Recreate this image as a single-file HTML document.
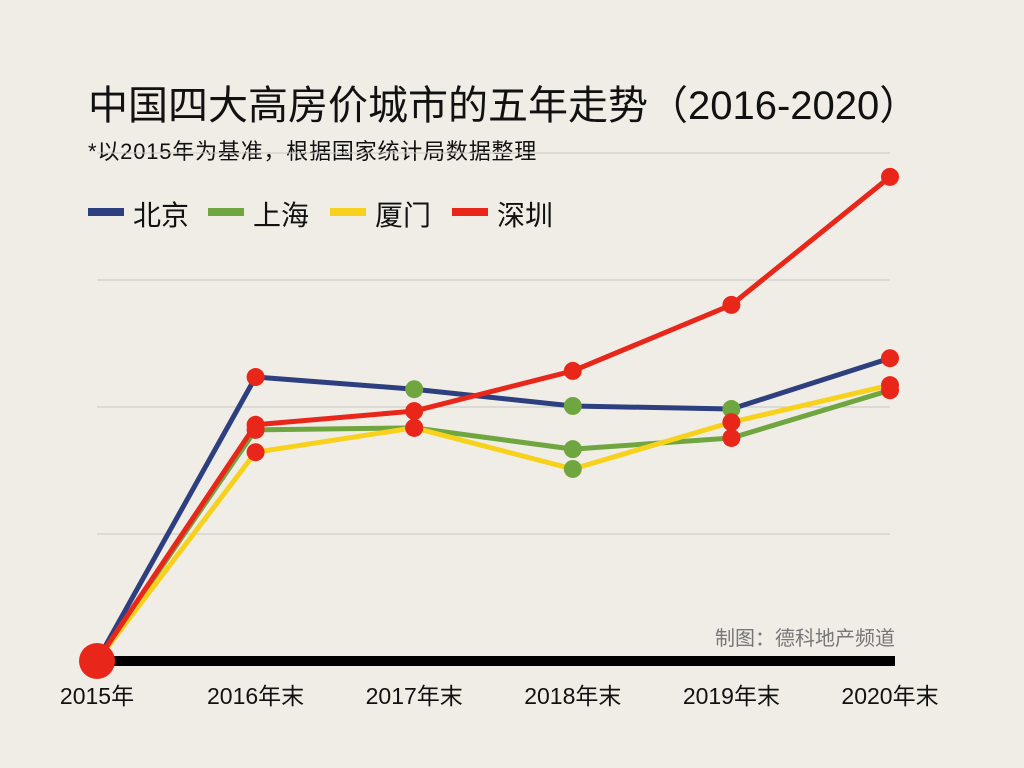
<!DOCTYPE html>
<html><head><meta charset="utf-8">
<style>
body{margin:0;background:#f0ede7;}
svg{display:block;font-family:"Liberation Sans","Noto Sans CJK SC",sans-serif;}
</style></head>
<body>
<svg id="chart" width="1024" height="768" viewBox="0 0 1024 768">
<rect width="1024" height="768" fill="#f0ede7"/>
<text x="88" y="119" font-size="40" fill="#111">中国四大高房价城市的五年走势（2016-2020）</text>
<text x="88" y="159" font-size="22" letter-spacing="0.8" fill="#111">*以2015年为基准，根据国家统计局数据整理</text>
<g>
<g><rect x="88" y="208" width="36" height="8" fill="#2e3f7f"/><text x="133" y="225" font-size="28" fill="#111">北京</text></g>
<g><rect x="208" y="208" width="36" height="8" fill="#70a640"/><text x="253" y="225" font-size="28" fill="#111">上海</text></g>
<g><rect x="330" y="208" width="36" height="8" fill="#f7d11c"/><text x="375" y="225" font-size="28" fill="#111">厦门</text></g>
<g><rect x="452" y="208" width="36" height="8" fill="#e8271a"/><text x="497" y="225" font-size="28" fill="#111">深圳</text></g>
</g>
<g id="grid"></g>
<g id="lines"></g>
<g id="dots"></g>
<g id="xlabels"></g>
<text x="715" y="645" font-size="20" fill="#777">制图：德科地产频道</text>
</svg>
<script>
const categories=["2015年","2016年末","2017年末","2018年末","2019年末","2020年末"];
const beijing=[0,55.9,53.5,50.2,49.6,59.6];
const shanghai=[0,45.5,45.9,41.7,43.9,53.3];
const xiamen=[0,41.1,45.9,37.8,47.0,54.3];
const shenzhen=[0,46.5,49.2,57.1,70.1,95.3];
const gridTicks=[25,50,75,100];
const beijingDotColors=["r","r","g","g","g","r"];
const shanghaiDotColors=["r","r","r","g","r","r"];
const xiamenDotColors=["r","r","r","g","r","r"];
const shenzhenDotColors=["r","r","r","r","r","r"];

const NS="http://www.w3.org/2000/svg";
const x0=97,x1=890,y0=661,yTop=153,vMax=100;
const xs=i=>x0+(x1-x0)*i/(categories.length-1);
const ys=v=>y0-(y0-yTop)*v/vMax;
function mk(tag,attrs,parent){const e=document.createElementNS(NS,tag);for(const k in attrs)e.setAttribute(k,attrs[k]);document.getElementById(parent).appendChild(e);return e;}
gridTicks.forEach(t=>{
 const l=mk("line",{x1:x0,x2:x1,y1:ys(t),y2:ys(t),stroke:"#c9c6c0","stroke-width":1},"grid");
 
 
});
const base=mk("line",{x1:x0,x2:895,y1:y0,y2:y0,stroke:"#000","stroke-width":10},"grid");


categories.forEach((c,i)=>{
 const t=mk("text",{x:xs(i),y:704,"font-size":23,"text-anchor":"middle",fill:"#111"},"xlabels");
 t.textContent=c;
 
 
});
const series=[["beijing",beijing,"#2e3f7f",beijingDotColors],["shanghai",shanghai,"#70a640",shanghaiDotColors],["xiamen",xiamen,"#f7d11c",xiamenDotColors],["shenzhen",shenzhen,"#e8271a",shenzhenDotColors]];
const dc={r:"#e8271a",g:"#70a640"};
series.forEach(([n,vals,col])=>{
 const p=mk("polyline",{points:vals.map((v,i)=>xs(i)+","+ys(v)).join(" "),fill:"none",stroke:col,"stroke-width":5,"stroke-linejoin":"round"},"lines");
 
 
});
series.forEach(([n,vals,col,dcol])=>{
 vals.forEach((v,i)=>{
  if(i===0)return;
  const c=mk("circle",{cx:xs(i),cy:ys(v),r:9,fill:dc[dcol[i]]},"dots");
  
  
 });
});
const o=mk("circle",{cx:xs(0),cy:ys(0),r:18,fill:"#e8271a"},"dots");


</script>
</body></html>
